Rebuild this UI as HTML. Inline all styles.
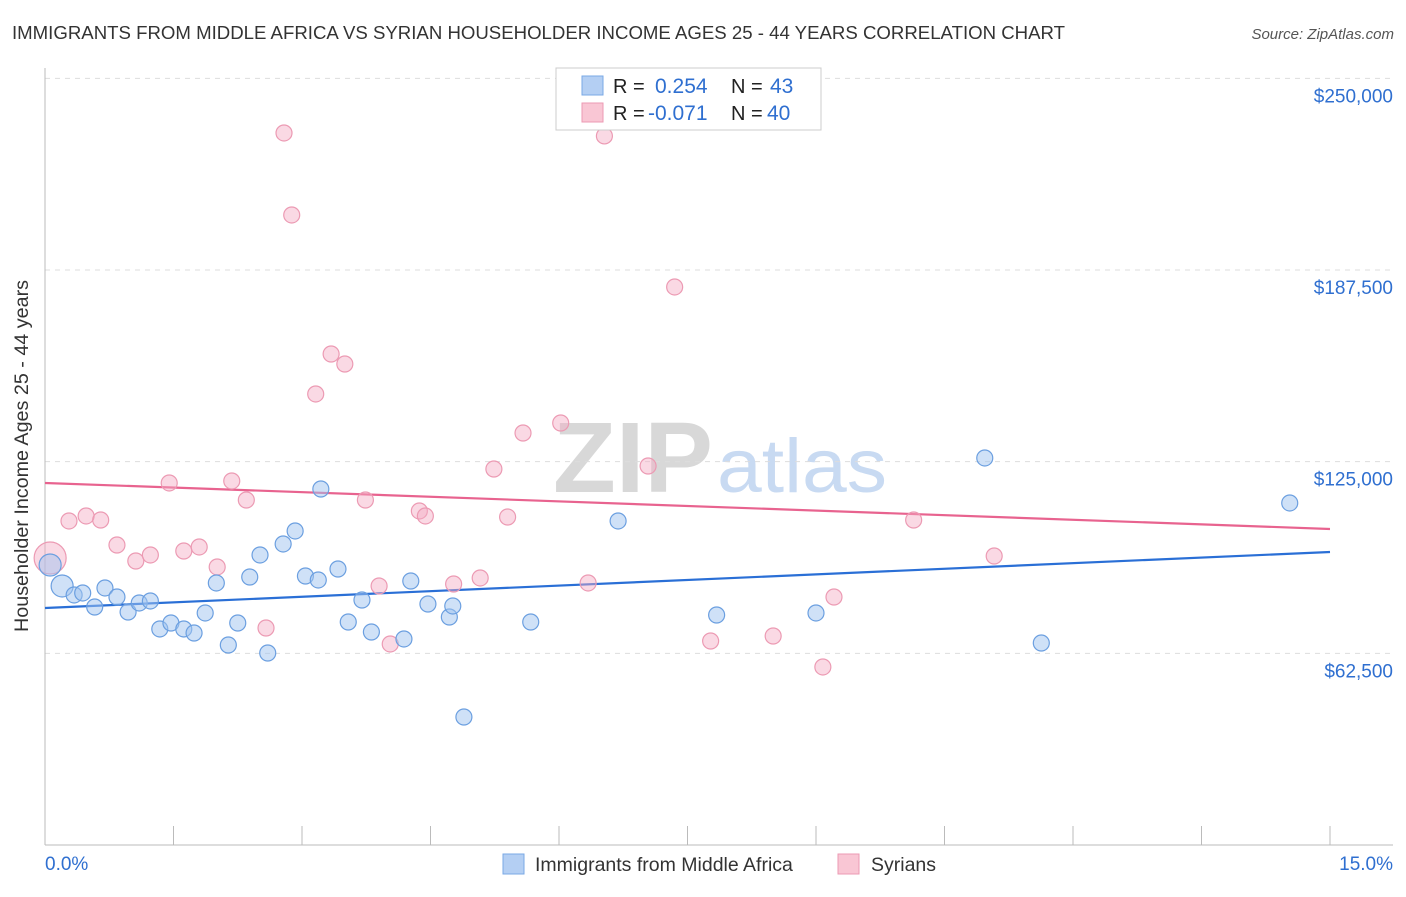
<!DOCTYPE html>
<html><head><meta charset="utf-8"><style>
body{margin:0;background:#fff;font-family:"Liberation Sans",sans-serif;}
svg text{font-family:"Liberation Sans",sans-serif;}
</style></head><body>
<svg id="chart" width="1406" height="892" xmlns="http://www.w3.org/2000/svg">
<text x="12" y="39" font-size="18.5" fill="#333" textLength="1053" lengthAdjust="spacingAndGlyphs">IMMIGRANTS FROM MIDDLE AFRICA VS SYRIAN HOUSEHOLDER INCOME AGES 25 - 44 YEARS CORRELATION CHART</text>
<text x="1394" y="39" font-size="15" fill="#555" font-style="italic" text-anchor="end">Source: ZipAtlas.com</text>
<g>
<text x="553" y="492" font-size="100" fill="#d8d8d8" font-family="Liberation Serif" font-weight="bold" textLength="160" lengthAdjust="spacingAndGlyphs">ZIP</text>
<text x="717" y="492" font-size="76" fill="#c8daf2" textLength="170" lengthAdjust="spacingAndGlyphs">atlas</text>
</g>
<g id="grid"></g>
<g id="axes"></g>
<g id="lines"></g>
<g id="points"></g>
<g>
<rect x="556" y="68" width="265" height="62" fill="#fff" stroke="#ccc"/>
<rect x="582" y="76" width="21" height="19" fill="#b4cff3" stroke="#7aa8e6"/>
<rect x="582" y="103" width="21" height="19" fill="#f9c6d4" stroke="#ec9ab3"/>
<text x="613" y="93" font-size="20" fill="#222">R =</text><text x="655" y="93" font-size="21" fill="#2f6fd0">0.254</text>
<text x="731" y="93" font-size="20" fill="#222">N =</text><text x="770" y="93" font-size="21" fill="#2f6fd0">43</text>
<text x="613" y="120" font-size="20" fill="#222">R =</text><text x="648" y="120" font-size="21" fill="#2f6fd0">-0.071</text>
<text x="731" y="120" font-size="20" fill="#222">N =</text><text x="767" y="120" font-size="21" fill="#2f6fd0">40</text>
</g>
<g>
<rect x="503" y="854" width="21" height="20" fill="#b4cff3" stroke="#7aa8e6"/>
<text x="535" y="871" font-size="19.5" fill="#333">Immigrants from Middle Africa</text>
<rect x="838" y="854" width="21" height="20" fill="#f9c6d4" stroke="#ec9ab3"/>
<text x="871" y="871" font-size="19.5" fill="#333">Syrians</text>
</g>
<text x="28" y="456" font-size="19" fill="#333" text-anchor="middle" textLength="352" lengthAdjust="spacingAndGlyphs" transform="rotate(-90 28 456)">Householder Income Ages 25 - 44 years</text>
</svg>
<script>
const xTickLabels=["0.0%","15.0%"];
const yTicks=[62500,125000,187500,250000];
const yTickLabels=["$62,500","$125,000","$187,500","$250,000"];
const blueX=[0.06,0.20,0.34,0.44,0.58,0.70,0.84,0.97,1.10,1.23,1.34,1.47,1.62,1.74,1.87,2.00,2.14,2.25,2.39,2.51,2.60,2.78,2.92,3.04,3.19,3.22,3.42,3.54,3.70,3.81,4.19,4.27,4.47,4.72,4.76,4.89,5.67,6.69,7.84,9.00,10.97,11.63,14.53];
const blueY=[91300,84460,81530,82180,77610,83810,80870,75980,78920,79570,70440,72390,70440,69130,75660,85440,65220,72390,87390,94570,62610,98160,102400,87720,86420,116090,90000,72720,79890,69460,67180,86090,78590,74350,77940,41740,72720,105660,75000,75660,126200,65870,111530];
const pinkX=[0.06,0.28,0.48,0.65,0.84,1.06,1.23,1.45,1.62,1.80,2.01,2.18,2.35,2.58,2.79,2.88,3.16,3.34,3.50,3.74,3.90,4.03,4.37,4.44,4.77,5.08,5.24,5.40,5.58,6.02,6.34,6.53,7.04,7.35,7.77,8.50,9.08,9.21,10.14,11.08];
const pinkY=[93590,105660,107290,105980,97830,92610,94570,118050,95870,97180,90660,118700,112500,70760,232180,205440,147070,160110,156850,112500,84460,65550,108920,107290,85110,87070,122610,106960,134350,137610,85440,231210,123590,181960,66520,68150,58050,80870,105980,94240];
const blueTrend=[77290,95550];
const pinkTrend=[118050,103050];
const NS="http://www.w3.org/2000/svg";
const X=v=>45+v/15*1285;
const Y=v=>845-v/62500*191.67;
function mk(tag,attrs,parent){const e=document.createElementNS(NS,tag);for(const k in attrs)e.setAttribute(k,attrs[k]);document.getElementById(parent).appendChild(e);return e;}
yTicks.forEach((t,i)=>{
 const g=mk('line',{x1:45,x2:1393,y1:Y(t),y2:Y(t),stroke:'#ddd','stroke-dasharray':'5,5'},'grid');
 
 
 const tx=mk('text',{x:1393,y:Y(t)+24,'font-size':19,fill:'#2f6fd0','text-anchor':'end'},'axes');
 tx.textContent=yTickLabels[i];
 
 
});
let a=mk('line',{x1:45,x2:45,y1:68,y2:845,stroke:'#bbb'},'axes');


a=mk('line',{x1:45,x2:1393,y1:845,y2:845,stroke:'#bbb'},'axes');


for(let i=1;i<=10;i++){
 const t=mk('line',{x1:X(i*1.5),x2:X(i*1.5),y1:826,y2:845,stroke:'#bbb'},'axes');
 
 
}
[[0,'start',45],[15,'end',1393]].forEach((d,i)=>{
 const t=mk('text',{x:d[2],y:870,'font-size':19,fill:'#2f6fd0','text-anchor':d[1]},'axes');
 t.textContent=xTickLabels[i];
 
 
});
let l=mk('line',{x1:X(0),x2:X(15),y1:Y(blueTrend[0]),y2:Y(blueTrend[1]),stroke:'#2a6fd6','stroke-width':2.2},'lines');


l=mk('line',{x1:X(0),x2:X(15),y1:Y(pinkTrend[0]),y2:Y(pinkTrend[1]),stroke:'#e8638f','stroke-width':2.2},'lines');


pinkX.forEach((x,i)=>{
 const c=mk('circle',{cx:X(x),cy:Y(pinkY[i]),r:i==0?16:8,fill:'rgba(245,170,195,0.45)',stroke:'#ec9ab3','stroke-width':1.2},'points');
 
 
});
blueX.forEach((x,i)=>{
 const c=mk('circle',{cx:X(x),cy:Y(blueY[i]),r:i<2?11:8,fill:'rgba(160,195,240,0.5)',stroke:'#6b9fe0','stroke-width':1.2},'points');
 
 
});
</script>
</body></html>
